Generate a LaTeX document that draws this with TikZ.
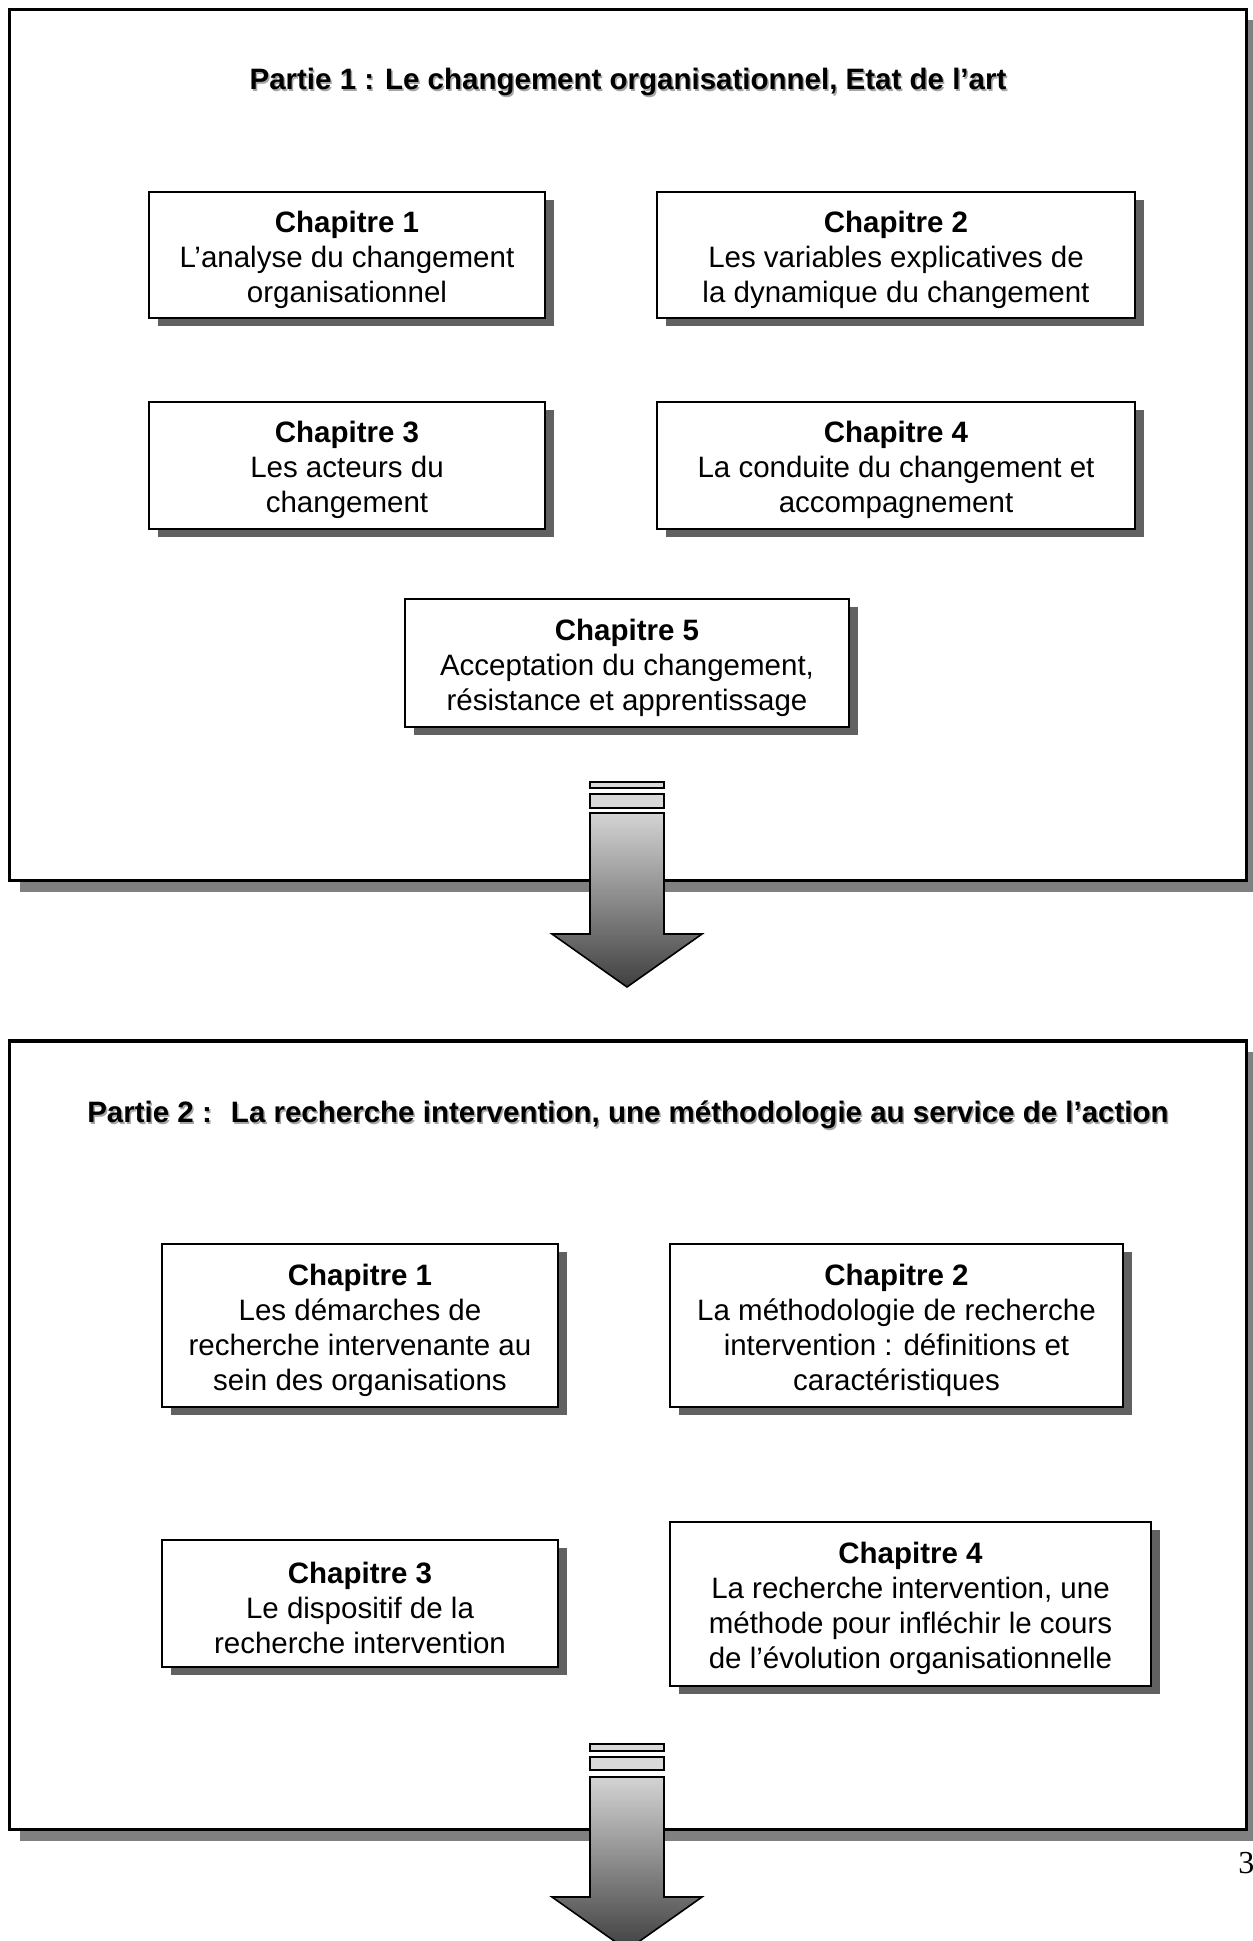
\documentclass[tikz,border=0pt]{standalone}
\usepackage{fontspec}
\setmainfont{Liberation Sans}
\newfontfamily\pagenumfont{Liberation Serif}
\usetikzlibrary{shadows}
\definecolor{chapshadow}{gray}{0.38}
\definecolor{partshadow}{gray}{0.5}
\definecolor{barfill}{gray}{0.85}
\newcommand{\chapfont}{\fontsize{14.75pt}{17.5pt}\selectfont}
\newcommand{\chaphead}[1]{\rule{0pt}{15.3pt}\textbf{Chapitre #1}}
\tikzset{
  partbox/.style={draw, line width=1.8pt, fill=white, inner sep=0pt,
    drop shadow={shadow xshift=5pt, shadow yshift=-5.5pt, fill=partshadow, opacity=1}},
  chap/.style={draw, line width=1pt, fill=white, align=center, inner sep=0pt, font=\chapfont,
    drop shadow={shadow xshift=4.5pt, shadow yshift=-4pt, fill=chapshadow, opacity=1}},
  ptitle/.style={font=\chapfont\bfseries, inner sep=0pt},
  ptitleshadow/.style={font=\chapfont\bfseries, inner sep=0pt, text=black!35},
  bigarrow/.style={draw, line width=0.8pt, line join=miter, top color=black!17, bottom color=black!75},
  arrowbar/.style={draw, line width=0.8pt, fill=barfill}
}
\begin{document}
\begin{tikzpicture}[x=0.5pt, y=-0.5pt]
\useasboundingbox (0,0) rectangle (1252,1941);

% Part 1
\node[partbox, minimum width=618.5pt, minimum height=435.5pt] (part1) at (628,445) {};
\node[ptitleshadow] (t1s) at (629.5,83.5) {Partie 1 : Le changement organisationnel, Etat de l’art};
\node[ptitle] (t1) at (628,82) {Partie 1 : Le changement organisationnel, Etat de l’art};

\node[chap, minimum width=198pt, minimum height=63pt] (p1c1) at (347,255)
  {\chaphead{1}\\L’analyse du changement\\organisationnel};
\node[chap, minimum width=239pt, minimum height=63pt] (p1c2) at (896,255)
  {\chaphead{2}\\Les variables explicatives de\\la dynamique du changement};
\node[chap, minimum width=198pt, minimum height=63.5pt] (p1c3) at (347,465.5)
  {\chaphead{3}\\Les acteurs du\\changement};
\node[chap, minimum width=239pt, minimum height=63.5pt] (p1c4) at (896,465.5)
  {\chaphead{4}\\La conduite du changement et\\accompagnement};
\node[chap, minimum width=222pt, minimum height=64pt] (p1c5) at (627,663)
  {\chaphead{5}\\Acceptation du changement,\\résistance et apprentissage};

% Part 2
\node[partbox, minimum width=618.5pt, minimum height=394.25pt] (part2) at (628,1435.25) {};
\node[ptitleshadow] (t2s) at (629.5,1116.5) {Partie 2 :~ La recherche intervention, une méthodologie au service de l’action};
\node[ptitle] (t2) at (628,1115) {Partie 2 :~ La recherche intervention, une méthodologie au service de l’action};

\node[chap, minimum width=198pt, minimum height=81.5pt] (p2c1) at (360,1325.5)
  {\chaphead{1}\\Les démarches de\\recherche intervenante au\\sein des organisations};
\node[chap, minimum width=226.5pt, minimum height=81.5pt] (p2c2) at (896.5,1325.5)
  {\chaphead{2}\\La méthodologie de recherche\\intervention : définitions et\\caractéristiques};
\node[chap, minimum width=198pt, minimum height=63.5pt] (p2c3) at (360,1603.5)
  {\chaphead{3}\\Le dispositif de la\\recherche intervention};
\node[chap, minimum width=240.5pt, minimum height=82pt] (p2c4) at (910.5,1604)
  {\chaphead{4}\\La recherche intervention, une\\méthode pour infléchir le cours\\de l’évolution organisationnelle};

% Arrow 1
\draw[arrowbar] (590,782) rectangle (664,788);
\draw[arrowbar] (590,794) rectangle (664,808);
\draw[bigarrow] (590,813) -- (664,813) -- (664,934) -- (702,934) -- (627,987)
  -- (552,934) -- (590,934) -- cycle;

% Arrow 2
\draw[arrowbar] (590,1744) rectangle (664,1751);
\draw[arrowbar] (590,1757) rectangle (664,1770);
\draw[bigarrow] (590,1777) -- (664,1777) -- (664,1897) -- (702,1897) -- (627,1950)
  -- (552,1897) -- (590,1897) -- cycle;

% Page number
\node[anchor=base west, inner sep=0pt, font=\pagenumfont\fontsize{16pt}{18pt}\selectfont] (pnum) at (1238,1873) {3};
\end{tikzpicture}
\end{document}
